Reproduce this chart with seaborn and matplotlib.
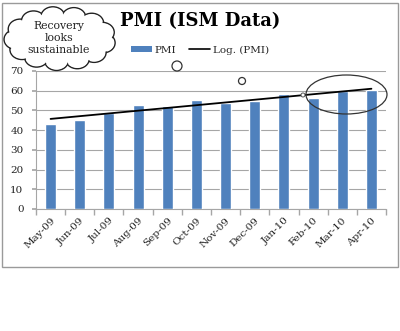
import matplotlib
matplotlib.use("Agg")
import matplotlib.pyplot as plt
import seaborn as sns
import pandas as pd
import numpy as np
from matplotlib.patches import Ellipse, Rectangle, Patch
from matplotlib.lines import Line2D

months = ["May-09", "Jun-09", "Jul-09", "Aug-09", "Sep-09", "Oct-09",
          "Nov-09", "Dec-09", "Jan-10", "Feb-10", "Mar-10", "Apr-10"]
pmi = [43.0, 45.2, 48.9, 52.8, 52.3, 55.1, 53.6, 54.8, 58.2, 56.5, 59.9, 60.2]
trend_months = ["May-09", "Apr-10"]
trend_values = [45.7, 61.0]
yticks = [0, 10, 20, 30, 40, 50, 60, 70]

sns.set_theme(style="white")
plt.rcParams["font.family"] = ["DejaVu Serif"]

W, H = 400, 331
fig = plt.figure(figsize=(W / 100, H / 100), dpi=100)
ax = fig.add_axes([36 / W, 1 - 209 / H, 350 / W, 138 / H])

df = pd.DataFrame({"month": months, "pmi": pmi})
sns.barplot(data=df, x="month", y="pmi", color="#4F81BD", width=0.38,
            saturation=1, ax=ax, zorder=3)
tx = [months.index(m) for m in trend_months]
ax.plot(tx, trend_values, color="black", lw=1.3, zorder=4)

ax.set_ylim(0, 70)
ax.set_xlim(-0.5, len(months) - 0.5)
ax.set_yticks(yticks)
ax.set_yticklabels([str(v) for v in yticks], fontsize=7.5, color="#222222")
ax.yaxis.grid(True, color="#A6A6A6", lw=0.8, zorder=0)
ax.set_axisbelow(True)
ax.set_xlabel("")
ax.set_ylabel("")
ax.set_xticks(range(len(months)))
ax.set_xticklabels(months, rotation=45, ha="right", rotation_mode="anchor",
                   fontsize=7.5, color="#222222")
ax.set_xticks([i - 0.5 for i in range(len(months) + 1)], minor=True)
ax.tick_params(axis="x", which="major", length=0, pad=5)
ax.tick_params(axis="x", which="minor", length=4, color="#A6A6A6", bottom=True)
ax.tick_params(axis="y", length=3, color="#A6A6A6", left=True, pad=6)
for s in ["top", "right"]:
    ax.spines[s].set_visible(False)
for s in ["left", "bottom"]:
    ax.spines[s].set_color("#A6A6A6")
    ax.spines[s].set_linewidth(0.8)

# title and legend
fig.text(200 / W, 1 - 21 / H, "PMI (ISM Data)", ha="center", va="center",
         fontsize=13, fontweight="bold", color="black")
handles = [Patch(facecolor="#4F81BD", edgecolor="none", label="PMI"),
           Line2D([0], [0], color="black", lw=1.2, label="Log. (PMI)")]
fig.legend(handles=handles, loc="center", bbox_to_anchor=(200 / W, 1 - 50 / H),
           ncol=2, frameon=False, fontsize=7.5, handlelength=2.0,
           handleheight=0.6, columnspacing=1.2, handletextpad=0.3)

# decoration overlay in pixel coordinates
ov = fig.add_axes([0, 0, 1, 1], zorder=10)
ov.set_xlim(0, W)
ov.set_ylim(H, 0)
ov.axis("off")
ov.patch.set_alpha(0)

ov.add_patch(Rectangle((2, 3), 396, 264, fill=False, edgecolor="#9A9A9A", lw=1))

# cloud callout: scalloped outline
ccx, ccy, ca, cb = 60, 38.5, 44, 22
n_b = 13
bumps = [(ccx, ccy, 2 * ca, 2 * cb)]
for k in range(n_b):
    t = 2 * np.pi * k / n_b + 0.2
    bumps.append((ccx + ca * np.cos(t), ccy + cb * np.sin(t), 24, 20))
for (cx, cy, w, h) in bumps:
    ov.add_patch(Ellipse((cx, cy), w, h, facecolor="white", edgecolor="#222222", lw=1.0))
for (cx, cy, w, h) in bumps:
    ov.add_patch(Ellipse((cx, cy), w - 2.2, h - 2.2, facecolor="white", edgecolor="none"))
ov.text(59, 38, "Recovery\nlooks\nsustainable", ha="center", va="center",
        fontsize=7.8, linespacing=1.2, color="#222222")

ov.add_patch(Ellipse((177, 66), 10, 10, fill=False, edgecolor="#333333", lw=0.9))
ov.add_patch(Ellipse((242, 81), 7, 7, fill=False, edgecolor="#333333", lw=0.9))
ov.add_patch(Ellipse((303, 95), 4, 4, facecolor="white", edgecolor="#555555", lw=0.7))
ov.add_patch(Ellipse((346.5, 94.5), 81, 39, fill=False, edgecolor="#333333", lw=0.9))

fig.savefig("out.png", dpi=100)
